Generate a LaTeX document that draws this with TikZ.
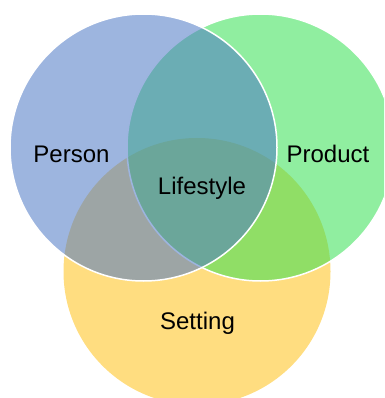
\documentclass[tikz,border=0pt]{standalone}
\usepackage{fontspec}
\setmainfont{Liberation Sans}
\usetikzlibrary{positioning}
\definecolor{personblue}{RGB}{77,120,197}
\definecolor{productgreen}{RGB}{53,224,82}
\definecolor{settingyellow}{RGB}{255,221,128}
\tikzset{
    venn/.style={circle, inner sep=0pt, minimum size=267pt},
    % Setting circle, at the back
    circ_set/.style = {venn, fill=settingyellow},
    % Person and Product circles, see-through
    circ_top/.style = {venn, draw=white, line width=1.5pt, fill opacity=0.55, draw opacity=1},
    label_txt/.style = {font=\fontsize{24}{28}\selectfont, anchor=base, inner sep=0pt}
}

\begin{document}
\begin{tikzpicture}[x=1pt, y=-1pt]
    \useasboundingbox (0,0) rectangle (384,398);
    \clip (0,0) rectangle (384,398);

        \node[circ_set] (setting) at (197,271.5) {};
        \node[circ_top, fill=productgreen] (product) at (260.5,147.5) {};
        \node[circ_top, fill=personblue] (person) at (143.5,147.5) {};

        \node[label_txt] (l_person) at (71.5,162) {Person};
        \node[label_txt] (l_product) at (328,162) {Product};
        \node[label_txt] (l_life) at (202,194) {Lifestyle};
        \node[label_txt] (l_set) at (197.5,329) {Setting};
    \end{tikzpicture}
\end{document}
